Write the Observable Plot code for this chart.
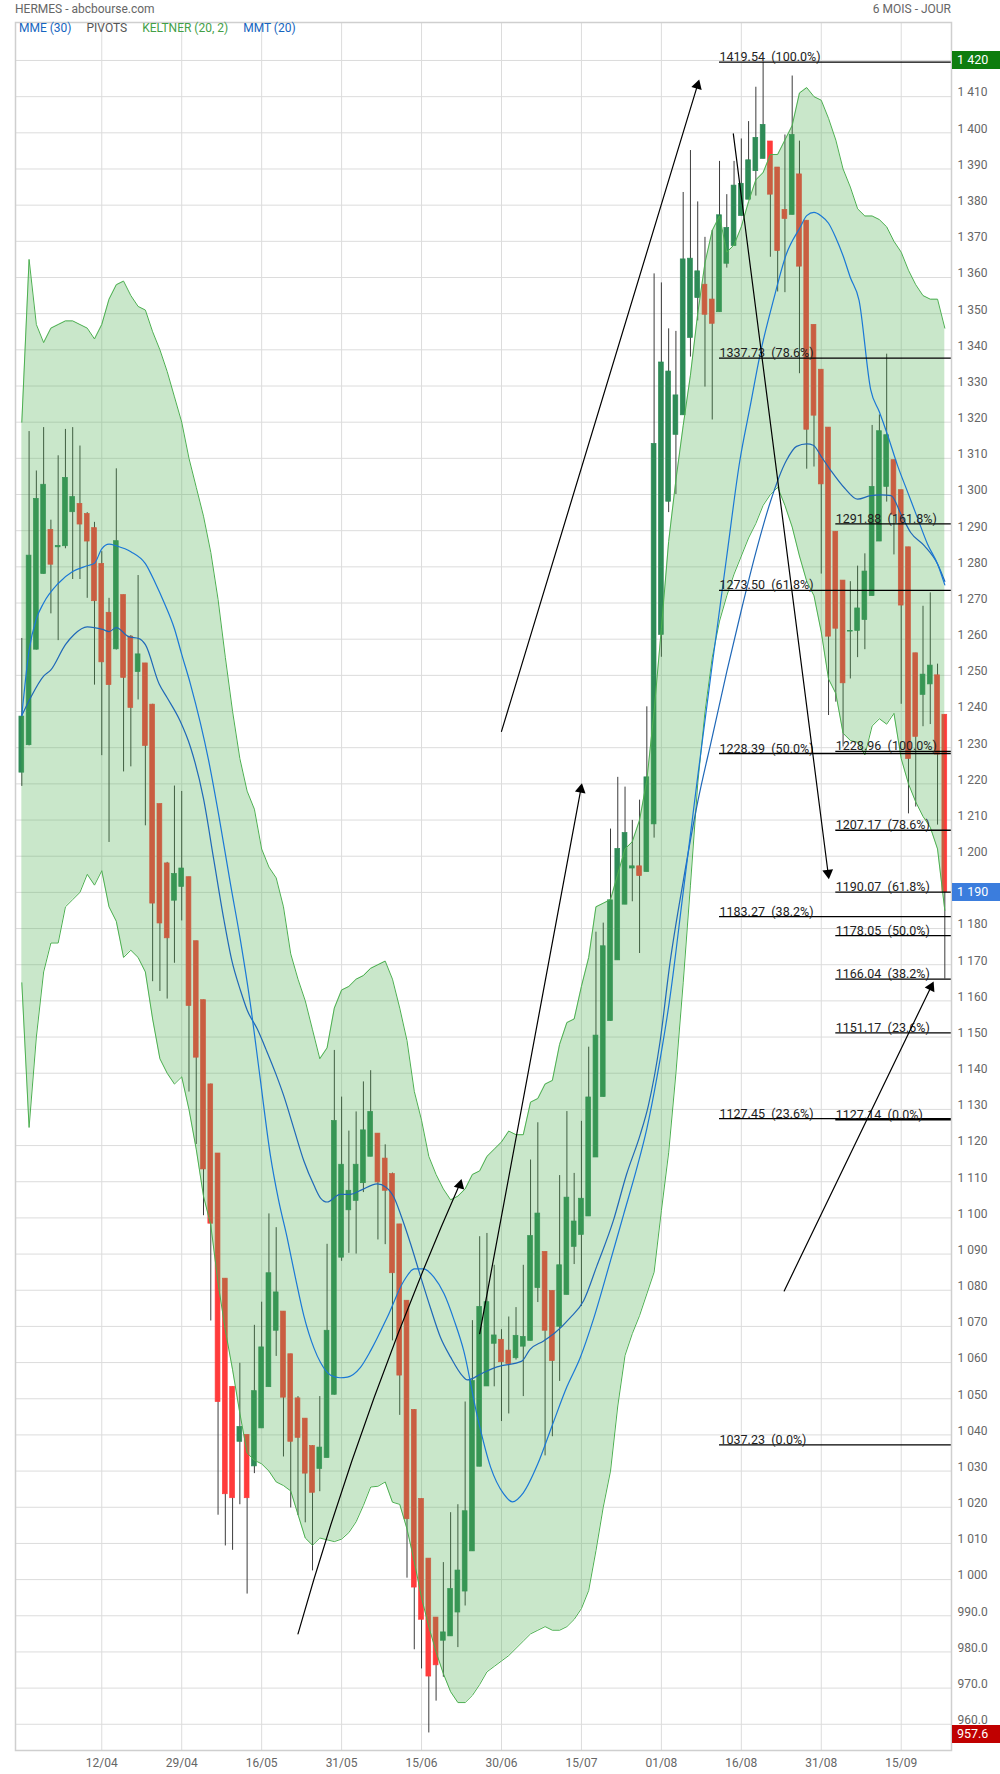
<!DOCTYPE html>
<html><head><meta charset="utf-8">
<script src="https://cdn.jsdelivr.net/npm/d3@7"></script>
<script src="https://cdn.jsdelivr.net/npm/@observablehq/plot@0.6"></script>
<style>
body{margin:0;background:#fff;font-family:Roboto,"Noto Sans",sans-serif;}
#wrap{position:relative;width:1000px;height:1774px;overflow:hidden;}
#wrap svg{position:absolute;left:0;top:0;}
.hdr{position:absolute;top:2px;font-size:12px;line-height:14px;color:#666;}
.leg{position:absolute;top:21px;left:19px;font-size:12px;line-height:14px;white-space:nowrap;}
.leg span{margin-right:15px;}
.box{position:absolute;left:952px;width:48px;height:18px;line-height:18px;color:#fff;font-size:12.5px;padding-left:5px;box-sizing:border-box;}
</style></head><body><div id="wrap"></div>
<script>
// ---- candles (daily, index 0 = first session shown) ----
const open  = [1223.1,1230.7,1257.1,1278,1290.2,1285.4,1285.7,1295.1,1297.4,1294.6,1290.7,1280.8,1267.3,1257.2,1272.2,1260.7,1250.9,1253.3,1241.9,1214.4,1198,1187.7,1191.5,1194.2,1176.5,1160.2,1136.9,1117.8,1083.2,1053.3,1038.1,1040,1031.3,1041.8,1053.2,1068.8,1074.1,1062.3,1050.1,1044.5,1036.9,1030.6,1033.6,1051.1,1089,1102.1,1104.7,1109.6,1116.9,1123.3,1116.4,1112.1,1098.2,1077.1,1046.9,1022.3,1005.8,989.5,983.1,984.3,990.9,996.7,1007.8,1031.2,1053.4,1065.2,1066.3,1063.3,1061.2,1064.4,1066,1080.6,1090.6,1079.8,1069.9,1078.7,1092,1095.3,1100.4,1116.7,1133.4,1154.4,1171.2,1186.6,1196.6,1197.2,1195.6,1208.8,1261.2,1298,1316.5,1321.9,1343.3,1354.3,1358,1353.9,1350.4,1363.8,1368.7,1377,1381.5,1389.4,1392.8,1397.6,1390.4,1378.7,1377.3,1388.5,1375.7,1346.9,1334.5,1318.5,1289.7,1276.2,1262.1,1262.3,1265.3,1271.9,1287,1302.1,1309.5,1301.2,1285.4,1256.1,1244.6,1247.5,1250,1239.1];
const high  = [1260.2,1317.4,1306.5,1318.5,1292.9,1310.7,1318,1318.5,1313.4,1295,1292.3,1284.2,1271.3,1307.1,1272.2,1261,1277.6,1253.3,1242,1214.4,1198.3,1219.4,1217.9,1194.2,1176.5,1160.2,1137,1117.8,1083.2,1053.3,1059.8,1040,1070.3,1076.7,1101.1,1097.3,1074.1,1062.3,1050.6,1044.5,1037,1050.6,1092.7,1146.3,1133.4,1124,1129.3,1137.6,1140.7,1123.3,1120.2,1112.4,1098.2,1077.1,1047,1022.3,1005.8,989.5,1004.7,1018.5,1020.7,1049.1,1071.6,1094.8,1095.7,1086.9,1069.1,1072.6,1075.2,1086.9,1116,1126.3,1090.6,1079.8,1111.7,1129.4,1112.3,1126.7,1147.2,1179,1181.5,1207.5,1221.8,1219.1,1209.9,1215.5,1241.3,1361,1358.5,1345.8,1345.1,1383.5,1395.1,1380.9,1371.1,1373,1392.1,1382.9,1392.1,1398.3,1403.1,1412.6,1419.54,1397.6,1390.4,1399.4,1415.7,1397.7,1375.7,1346.9,1334.5,1318.5,1289.7,1276.2,1275.9,1280.2,1283.6,1319.1,1322,1338.8,1309.5,1301.2,1285.4,1256.1,1269.1,1272.8,1253.1,1239.1];
const low   = [1219.3,1230.5,1257,1278,1267,1259.6,1285,1276.5,1276.5,1271.3,1247.3,1227.8,1203.8,1257,1223.3,1224.7,1243.2,1208.4,1165.3,1162.6,1160.5,1170.4,1182.1,1134.8,1120.3,1100.6,1071.5,1017.8,1009.3,1008.1,1020.7,996,1029.3,1041.8,1053.2,1061.7,1033.9,1019.8,1017.7,1015.7,1002.4,1024.3,1033.6,1051,1088,1090.2,1090,1107,1116.9,1093.9,1092.6,1066,1045.4,1000.4,980.6,975.3,957.6,966.4,973,984.3,981.2,992.7,1007.8,1031.2,1053.4,1053.3,1043.7,1045.8,1060.7,1050.6,1066,1076.6,1034.2,1039.5,1054.8,1078.7,1087.1,1075.5,1100.4,1116.7,1133.4,1154.4,1171.2,1186.6,1187.4,1173.1,1195.6,1205,1255,1295,1300,1321.9,1338,1348,1329.7,1320.6,1350.4,1362.6,1368.7,1377,1381.5,1382.5,1392.8,1365.6,1356,1355.8,1377.3,1333.4,1307,1307.6,1278,1238.9,1242.6,1230.2,1249,1254.9,1257.1,1271.9,1287,1297.9,1283.3,1242,1211.7,1213.6,1235.8,1236.4,1208.6,1166.04];
const close = [1238.6,1283.1,1298.8,1302.7,1280.6,1285.8,1304.6,1299.3,1291.7,1287,1270.5,1253.6,1247.3,1287.1,1249.3,1241,1255.8,1230.5,1186.9,1181.4,1177.3,1195.1,1196.6,1158.6,1144.3,1113.4,1098.4,1049.1,1023.6,1022.5,1042.2,1022.5,1052.1,1064.2,1084.7,1079.4,1050.3,1038.1,1039.2,1029.3,1024,1036.5,1068.8,1126.8,1114.7,1107.5,1114.7,1124.2,1129.3,1109.8,1107.5,1084.7,1056.4,1016.7,997.8,988.9,973.2,976.3,985.4,997.4,1002.5,1018.9,1054.9,1075.4,1076.7,1067.5,1060.1,1059.6,1067.4,1067.1,1095,1101.2,1068.8,1060.4,1086.9,1105.6,1099,1105.3,1133.3,1150.4,1175.1,1187.8,1202,1206.4,1197.2,1194.5,1221.8,1314,1336.5,1334,1327.4,1365,1365.2,1361.7,1349.7,1347.2,1377.2,1373.7,1385.4,1385.9,1392.4,1398.6,1402.2,1382.9,1367.3,1376.2,1399.4,1363,1317.9,1321.8,1302.8,1260.7,1262.9,1247.8,1262.3,1268.5,1278.7,1302.1,1317.5,1316.4,1294.4,1269.3,1226.9,1233,1250.2,1252.7,1228.1,1190.07];

// ---- Keltner (20, 2) channel edges, one value per session ----
const kcUpper = [1320,1365,1347,1342,1346,1347,1348,1348,1347,1346,1343,1347,1354,1358,1359,1355,1352,1351,1345,1340,1334,1327,1320,1310,1302,1294,1284,1271,1255,1240,1227,1218,1213,1202,1197,1194,1186,1173,1166,1160,1152,1144,1147,1158,1163,1164,1166,1167,1169,1170,1171,1166,1158,1149,1135,1127,1117,1112,1108,1105,1106,1108,1112,1113,1117,1119,1121,1124,1123,1123,1132,1133,1137,1138,1148,1154,1155,1164,1172,1186,1187,1188,1195,1202,1204,1210,1221,1240,1263,1287,1304,1319,1333,1350,1364,1373,1377,1367,1369,1374,1381,1387,1389,1394,1394,1398,1402,1411,1412.5,1410,1409,1404,1398,1390,1385,1379,1377,1377,1376,1374,1370,1367,1362,1358,1355,1354,1354,1346];
const kcLower = [1165,1125,1150,1168,1176,1176,1186,1188,1190,1195,1192,1196,1186,1182,1172,1174,1172,1168,1155,1144,1140,1137,1139,1130,1119,1106,1098,1082,1069,1058,1046,1035,1033,1032,1030,1027,1026,1024.5,1018,1011.5,1009.5,1011.5,1011,1010.5,1011.2,1013,1016,1020.5,1025.6,1025.8,1027,1021.4,1020.8,1014,1005,995,987,980,974,969,966,966,968,971,974.5,976,977.5,979,981,983,985,986,987,986,986,987,989,992,997,1008,1020,1030,1048,1062,1068,1073,1079,1085,1102,1118,1140,1165,1192,1220,1240,1255,1265,1272,1278,1283,1288,1292,1297,1300,1302,1297,1291,1283,1276,1272,1262,1249,1245,1234,1232,1231.5,1228,1236,1238,1236.5,1239.5,1227,1220,1215,1211,1208,1202,1185];

// ---- moving averages, [session index, value] as read ----
const mmt20 = [[0,1238.9],[1,1256.9],[2,1265.6],[3,1270],[5,1275.4],[7,1278.7],[9,1280.3],[10,1281],[11,1285],[12,1286.3],[13,1285.8],[15,1284.2],[17,1280.9],[18.4,1275.4],[19.5,1270.5],[21,1262.9],[22,1255.8],[23.2,1247.6],[25.7,1226.5],[27.1,1211.3],[28.7,1192.4],[30.1,1176.5],[31.4,1159.8],[32.8,1138.5],[34.2,1117.3],[35.3,1105.2],[36.5,1094.6],[37.6,1083.9],[38.8,1073],[40.2,1064],[41.1,1060],[42.5,1056.5],[43.8,1055.8],[44.8,1056],[46.6,1058.7],[48,1063.3],[50.3,1072.6],[52.6,1082.7],[54,1085.9],[55.3,1085.9],[56.7,1083.6],[58.1,1079],[59.5,1071.6],[60.8,1063.3],[62.7,1044.9],[64.5,1031.1],[66.3,1023.7],[67.5,1021.5],[69,1024],[71,1032],[72.9,1042.2],[75,1053.3],[76.8,1061.2],[78.7,1072.3],[81,1088.2],[82.8,1100.9],[84.6,1113.6],[86,1124.7],[87.4,1139],[89.2,1161.2],[91,1190],[93,1222],[95,1253],[97,1283],[98.8,1309.4],[100.2,1324.2],[101.6,1338.9],[103.4,1353.6],[105.2,1366.5],[107.1,1373.9],[108,1377.1],[109,1378],[110,1377],[111,1375],[112,1371],[113,1366],[114,1360],[115.2,1353.7],[116.8,1329],[118,1322.8],[119.1,1316.6],[120.5,1308],[121.9,1300.6],[123.3,1293.2],[124.6,1286.4],[126,1280.8],[127,1275]];
const mme30 = [[0,1238.9],[1.2,1243.8],[3,1249.8],[4,1251.5],[6,1258.5],[7.2,1261.3],[9,1263.4],[11.1,1262.7],[12,1262.1],[13,1263.2],[14.7,1260.7],[16.1,1260.2],[17,1258.5],[18.9,1247.6],[20,1243.8],[21.8,1237.3],[23.2,1230.2],[25,1215.9],[26.4,1199.2],[27.8,1182.5],[28.9,1171.1],[30.1,1162.8],[31,1157.5],[32.4,1152.2],[33.7,1146.1],[34.9,1140.1],[36,1134],[37.4,1124.9],[38.8,1115.8],[40.2,1109],[41.1,1105.5],[42,1104.4],[43.8,1106.5],[45.2,1106.5],[46.6,1107.6],[48.9,1109.4],[50.1,1108.5],[51.2,1105.7],[52.1,1101.1],[53.5,1092.8],[54.9,1083.6],[56.2,1075.3],[57.6,1067],[59,1061.5],[60.6,1056.4],[61.3,1055.2],[63.3,1057],[65.4,1058.8],[68.8,1060.4],[69.9,1063.6],[71.8,1066],[73.4,1068.3],[75.4,1072.3],[77.3,1077.1],[79.1,1086.6],[81.4,1099.3],[83.2,1112],[85.1,1123.1],[86.2,1131],[87.8,1148.5],[89.2,1170.7],[91,1193],[93,1215],[95,1233],[97,1251],[99,1268],[101,1284],[103,1298],[105.2,1309.4],[106.6,1313.3],[108,1314],[108.9,1313.6],[110,1310.5],[111.3,1306.7],[113.2,1301.8],[115,1298.7],[116.8,1299.7],[118.2,1299.9],[119.6,1299.7],[121,1294.4],[122.3,1289.5],[124.2,1285.8],[126,1280.8],[127,1276]];

// ---- Fibonacci retracements (anchor session, levels, ratios) ----
const fib1Start = 96;
const fib1Levels = [1419.54,1337.73,1273.50,1228.39,1183.27,1127.45,1037.23];
const fib1Ratios = ["100.0%","78.6%","61.8%","50.0%","38.2%","23.6%","0.0%"];
const fib2Start = 112;
const fib2Levels = [1291.88,1228.96,1207.17,1190.07,1178.05,1166.04,1151.17,1127.14];
const fib2Ratios = ["161.8%","100.0%","78.6%","61.8%","50.0%","38.2%","23.6%","0.0%"];

// ---- pivot arrows: [from session, from price, to session, to price] ----
const arrows = [[38,985,60.4,1110],[63,1068,77,1219.4],[66,1234.5,93.1,1414],[97.9,1399.7,111,1194.4],[104.9,1079.8,125.3,1164.7]];
const arrowBend = [4,0,0,0,0];

// ---- axes ----
const tickIdx = [11,22,33,44,55,66,77,88,99,110,121];
const tickLabels = ["12/04","29/04","16/05","31/05","15/06","30/06","15/07","01/08","16/08","31/08","15/09"];
const yTicks = d3.range(960, 1421, 10);
const lastClose = 1190, periodHigh = 1420, periodLow = 957.6;

const xDomain = [-0.87, 127.92];
const yDomain = [952.75, 1430.5];

const candles = open.map((o, i) => ({i, o, h: high[i], l: low[i], c: close[i]}));
const band = kcUpper.map((hi, i) => ({i, hi, lo: kcLower[i]}));
const fibRows = [
  ...fib1Levels.map((v, k) => ({s: fib1Start, v, t: `${v.toFixed(2)}\u2002(${fib1Ratios[k]})`})),
  ...fib2Levels.map((v, k) => ({s: fib2Start, v, t: `${v.toFixed(2)}\u2002(${fib2Ratios[k]})`}))
];
const arrowRows = arrows.map(a => ({x1: a[0], y1: a[1], x2: a[2], y2: a[3]}));

const fmtY = v => v >= 1000 ? `${Math.floor(v/1000)}\u00a0${String(Math.round(v%1000)).padStart(3,"0")}` : v.toFixed(1);
const upColor = "#2e8b57", downColor = "#ff3b3b";
// labels hidden under the value boxes are not drawn
const yLabelTicks = yTicks.filter(v => v !== periodHigh && v !== lastClose);

function makePlot(extra) {
  return Plot.plot({
    width: 1000, height: 1774,
    marginTop: 22, marginRight: 49, marginBottom: 24, marginLeft: 15,
    style: {fontFamily: "Roboto, 'Noto Sans', sans-serif", fontSize: "12px", color: "#666", background: "transparent"},
    x: {type: "linear", domain: xDomain, axis: "bottom", ticks: tickIdx, tickFormat: d => tickLabels[tickIdx.indexOf(d)], tickSize: 0, tickPadding: 8, label: null},
    y: {type: "linear", domain: yDomain, axis: null},
    color: {type: "identity"},
    marks: [
      Plot.ruleY(yTicks, {stroke: "#dcdcdc", strokeWidth: 1}),
      Plot.ruleX(tickIdx, {stroke: "#dcdcdc", strokeWidth: 1}),
      Plot.ruleX(candles, {x: "i", y1: "l", y2: "h", stroke: "#3c3c3c", strokeWidth: 1}),
      Plot.rect(candles, {x1: d => d.i - 0.33, x2: d => d.i + 0.33, y1: "o", y2: "c",
        fill: d => d.c >= d.o ? upColor : downColor, stroke: d => d.c >= d.o ? upColor : downColor, strokeWidth: 0.7}),
      Plot.areaY(band, {x: "i", y1: "lo", y2: "hi", fill: "#4caf50", fillOpacity: 0.3}),
      Plot.line(band, {x: "i", y: "hi", stroke: "#4caf50", strokeWidth: 1}),
      Plot.line(band, {x: "i", y: "lo", stroke: "#4caf50", strokeWidth: 1}),
      Plot.line(mme30, {x: d => d[0], y: d => d[1], stroke: "#1f68b8", strokeWidth: 1.2, curve: "monotone-x"}),
      Plot.line(mmt20, {x: d => d[0], y: d => d[1], stroke: "#1a78d6", strokeWidth: 1.2, curve: "monotone-x"}),
      Plot.ruleY(fibRows, {y: "v", x1: "s", x2: () => xDomain[1], stroke: "#000", strokeWidth: 1.3}),
      Plot.text(fibRows, {x: "s", y: "v", text: "t", textAnchor: "start", lineAnchor: "bottom", dy: -1, fill: "#222", fontSize: 12.5}),
      Plot.arrow(arrowRows.slice(0,1), {x1: "x1", y1: "y1", x2: "x2", y2: "y2", bend: arrowBend[0], headLength: 0, stroke: "#000", strokeWidth: 1.2}),
      Plot.arrow(arrowRows.slice(1), {x1: "x1", y1: "y1", x2: "x2", y2: "y2", bend: 0, headLength: 0, stroke: "#000", strokeWidth: 1.2}),
      ...extra,
      Plot.frame({stroke: "#cfcfcf", strokeWidth: 1.5}),
      // right-hand price labels (sit just above their grid line)
      Plot.text(yLabelTicks, {x: () => xDomain[1], y: d => d, text: fmtY, dx: 6, dy: -4, textAnchor: "start", fill: "#666", fontSize: 12})
    ]
  });
}

// first pass to read the scales, then place arrowheads
const p0 = makePlot([]);
const sx = p0.scale("x"), sy = p0.scale("y");
const heads = arrowRows.map((a, k) => {
  const X1 = sx.apply(a.x1), Y1 = sy.apply(a.y1), X2 = sx.apply(a.x2), Y2 = sy.apply(a.y2);
  const ang = Math.atan2(X2 - X1, -(Y2 - Y1)) * 180 / Math.PI - arrowBend[k];
  const t = ang * Math.PI / 180;
  const cx = X2 - 3.5 * Math.sin(t), cy = Y2 + 3.5 * Math.cos(t);
  return {x: sx.invert(cx), y: sy.invert(cy), r: ang};
});
const plot = makePlot([Plot.dot(heads, {x: "x", y: "y", symbol: "triangle", r: 4, fill: "#000", stroke: "none", rotate: "r"})]);

const wrap = document.getElementById("wrap");
wrap.appendChild(plot);

function addDiv(cls, html, css) {
  const d = document.createElement("div");
  d.className = cls; d.innerHTML = html; Object.assign(d.style, css); wrap.appendChild(d);
}
addDiv("hdr", "HERMES - abcbourse.com", {left: "15px"});
addDiv("hdr", "6 MOIS - JOUR", {right: "49px"});
addDiv("leg", '<span style="color:#1565c0">MME (30)</span><span style="color:#555">PIVOTS</span><span style="color:#43a047">KELTNER (20, 2)</span><span style="color:#1565c0">MMT (20)</span>', {});
const ys = plot.scale("y");
[[periodHigh, "#0e7d0e", fmtY(periodHigh), -9], [lastClose, "#3b7ddd", fmtY(lastClose), -9], [periodLow, "#c00000", periodLow.toFixed(1), -7.5]].forEach(([v, bg, txt, off]) => {
  addDiv("box", txt, {top: (ys.apply(v) + off) + "px", background: bg});
});
</script></body></html>
